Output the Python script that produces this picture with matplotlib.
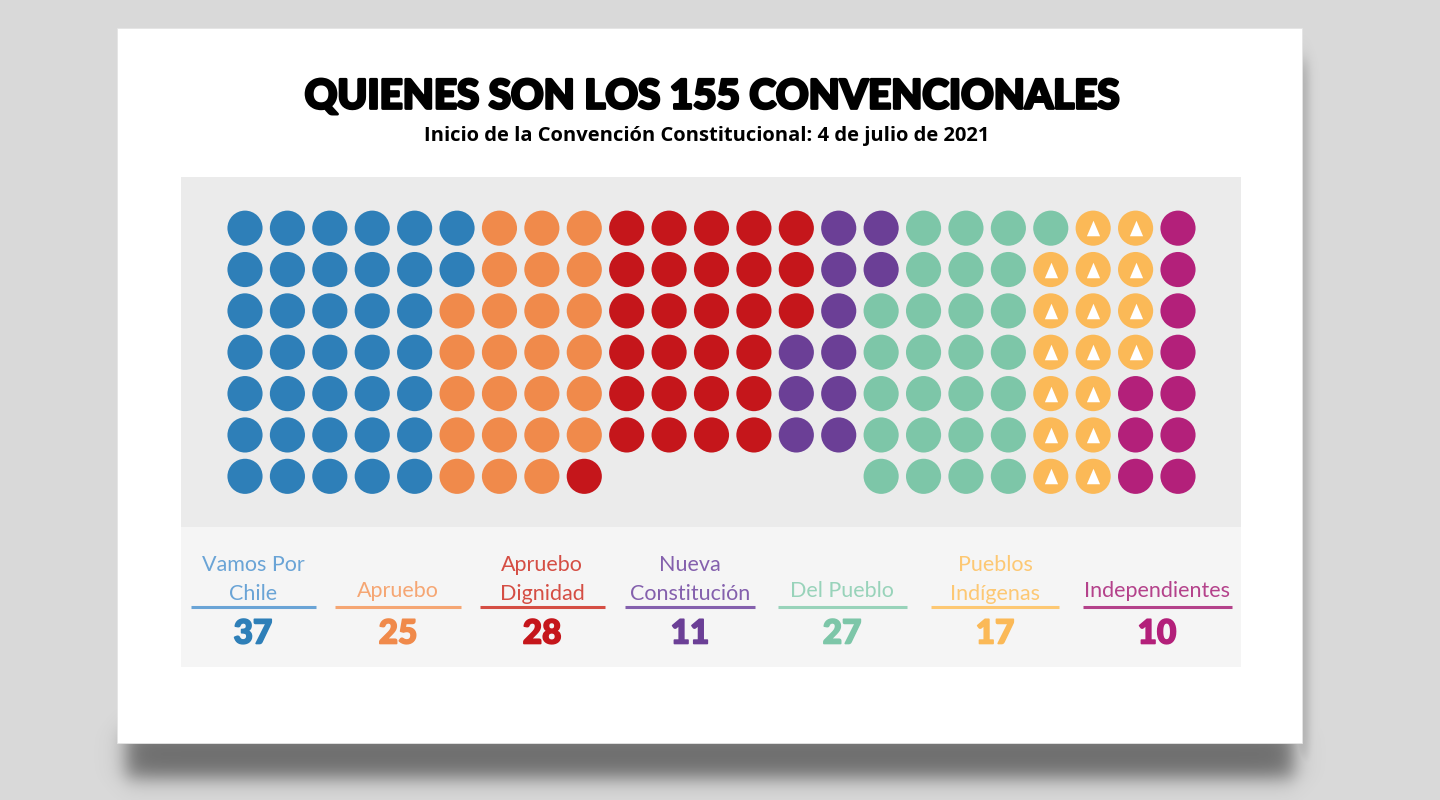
import numpy as np
import matplotlib.pyplot as plt
import matplotlib.patheffects as pe
from matplotlib.patches import Rectangle

# --- data ---
parties = ['Vamos Por\nChile', 'Apruebo', 'Apruebo\nDignidad', 'Nueva\nConstitución',
           'Del Pueblo', 'Pueblos\nIndígenas', 'Independientes']
seats = [37, 25, 28, 11, 27, 17, 10]
dot_colors = ['#2e7fb8', '#f08a4b', '#c5161b', '#6b3f96', '#7dc6a8', '#fbb957', '#b3207a']
label_colors = ['#6aa4d6', '#f5a673', '#d54e44', '#8460ad', '#98d3ba', '#fdc873', '#b4428b']
triangle_party = 'Pueblos\nIndígenas'

n_rows, n_cols = 7, 23
empty_cols = range(9, 15)   # bottom row is left open under these columns

title = 'QUIENES SON LOS 155 CONVENCIONALES'
subtitle = 'Inicio de la Convención Constitucional: 4 de julio de 2021'

W, H = 1440, 800
fig = plt.figure(figsize=(W / 100, H / 100), dpi=100)
fig.patch.set_facecolor('#d9d9d9')

bg = fig.add_axes([0, 0, 1, 1])
bg.set_xlim(0, W); bg.set_ylim(H, 0); bg.axis('off')

# soft drop shadow under the card
yy, xx = np.mgrid[0:H, 0:W] + 0.5
def edge(v, a, b, s):
    return 1 / (1 + np.exp(-(v - a) / s)) / (1 + np.exp((v - b) / s))
alpha = edge(xx, 126, 1294, 6) * edge(yy, 730, 778, 6) * 0.82
alpha = np.maximum(alpha, edge(xx, 1290, 1309, 2.5) * edge(yy, 60, 760, 6) * 0.3)
shadow = np.zeros((H, W, 4)); shadow[..., :3] = 0.33; shadow[..., 3] = alpha
bg.imshow(shadow, extent=(0, W, H, 0), aspect='auto', zorder=0, interpolation='bilinear')
bg.set_xlim(0, W); bg.set_ylim(H, 0)

bg.add_patch(Rectangle((117, 28), 1185, 715, fc='white', ec='#e4e4e4', lw=0.6, zorder=1))
bg.add_patch(Rectangle((181, 177), 1060, 350, fc='#ebebeb', lw=0, zorder=2))
bg.add_patch(Rectangle((181, 527), 1060, 140, fc='#f5f5f5', lw=0, zorder=2))

bg.text(711, 97, title, ha='center', va='center', fontsize=29, fontweight='black',
        family='Lato', color='black', zorder=3,
        path_effects=[pe.withStroke(linewidth=2.0, foreground='black')])
bg.text(707, 136, subtitle, ha='center', va='center', fontsize=14.5, fontweight='bold',
        family='Open Sans', color='black', zorder=3)

# --- dot grid ---
ax = fig.add_axes([223.8 / W, 1 - 497 / H, 975.4 / W, 289.5 / H])
ax.set_xlim(-0.5, n_cols - 0.5); ax.set_ylim(n_rows - 0.5, -0.5); ax.axis('off')

cells = [(c, r) for c in range(n_cols) for r in range(n_rows)
         if not (r == n_rows - 1 and c in empty_cols)]
owner = np.repeat(np.arange(len(seats)), seats)
xs = np.array([c for c, r in cells]); ys = np.array([r for c, r in cells])
ax.scatter(xs, ys, s=640, c=[dot_colors[i] for i in owner], linewidths=0)

tri = owner == parties.index(triangle_party)
ax.scatter(xs[tri], ys[tri], s=125, c='white', linewidths=0,
           marker=[(0, 1), (-0.85, -1), (0.85, -1)])

# --- legend row ---
centers = [253, 398, 542, 690, 842, 995, 1157]
widths = [125, 126, 125, 130, 129, 128, 149]
for name, n, col, lcol, x, w in zip(parties, seats, dot_colors, label_colors, centers, widths):
    lines = name.split('\n')
    base = 600 if len(lines) > 1 else 597
    for k, line in enumerate(reversed(lines)):
        bg.text(x, base - 29 * k, line, ha='center', va='baseline', fontsize=15.5,
                family='Lato', fontweight='normal', color=lcol, zorder=3)
    bg.plot([x - w / 2, x + w / 2], [606.5, 606.5], color=lcol, lw=2.2,
            solid_capstyle='butt', zorder=3)
    bg.text(x, 634, str(n), ha='center', va='center', fontsize=24, fontweight='black',
            family='Lato', color=col, zorder=3,
            path_effects=[pe.withStroke(linewidth=1.2, foreground=col)])

fig.savefig('out.png', dpi=100, facecolor=fig.get_facecolor())
